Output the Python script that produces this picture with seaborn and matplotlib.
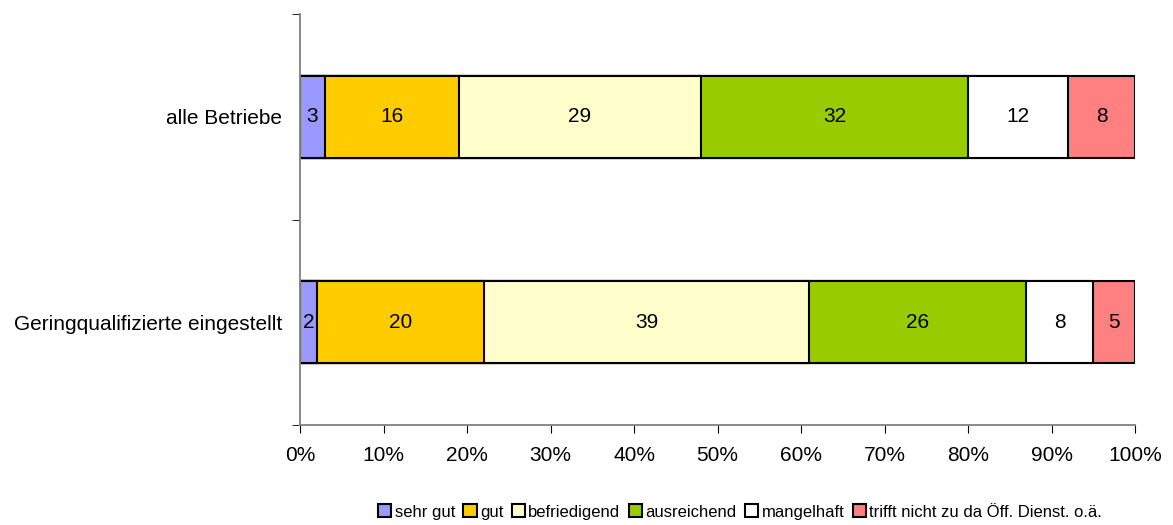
import numpy as np
import pandas as pd
import matplotlib
matplotlib.use('Agg')
import matplotlib.pyplot as plt
from matplotlib.patches import Patch
import seaborn as sns

# data
groups = ['alle Betriebe', 'Geringqualifizierte eingestellt']
grades = ['sehr gut', 'gut', 'befriedigend', 'ausreichend', 'mangelhaft',
          'trifft nicht zu da Öff. Dienst. o.ä.']
alle = [3, 16, 29, 32, 12, 8]
gering = [2, 20, 39, 26, 8, 5]
colors = ['#9999FF', '#FFCC00', '#FFFFCC', '#99CC00', '#FFFFFF', '#FF8080']

sns.set_style('white')
plt.rcParams['font.family'] = ['Liberation Sans', 'DejaVu Sans']
plt.rcParams['text.color'] = 'black'
plt.rcParams['xtick.color'] = 'black'
plt.rcParams['ytick.color'] = 'black'

df = pd.DataFrame([alle, gering], index=groups, columns=grades)
cum = df.cumsum(axis=1)

fig = plt.figure(figsize=(11.73, 5.25), dpi=100)
ax = fig.add_axes([300 / 1173, 100 / 525, 835 / 1173, 411 / 525])

# draw cumulative bars from the longest to the shortest
for i in range(len(grades) - 1, -1, -1):
    d = pd.DataFrame({'group': groups, 'val': cum.iloc[:, i].values})
    sns.barplot(data=d, x='val', y='group', orient='h', color=colors[i],
                saturation=1, width=0.4, edgecolor='black', linewidth=1.5, ax=ax)

# segment labels
fs = 15
for r, g in enumerate(groups):
    left = 0
    for v in df.loc[g]:
        ax.text(left + v / 2, r, str(v), ha='center', va='center', fontsize=fs)
        left += v

ax.set_xlim(0, 100)
ax.set_ylim(1.5, -0.5)
ax.set_xticks(np.arange(0, 101, 10))
ax.set_xticklabels([f'{t}%' for t in range(0, 101, 10)], fontsize=fs)
ax.set_yticks([0, 1])
ax.set_yticklabels(groups, fontsize=fs)
ax.set_yticks([-0.5, 0.5, 1.5], minor=True)
ax.tick_params(axis='y', which='major', length=0, pad=13)
ax.tick_params(axis='y', which='minor', length=6, direction='out', left=True)
ax.tick_params(axis='x', length=6, direction='out', bottom=True, pad=9)
ax.set_xlabel('')
ax.set_ylabel('')
for s in ['top', 'right']:
    ax.spines[s].set_visible(False)
for s in ['left', 'bottom']:
    ax.spines[s].set_color('#808080')
    ax.spines[s].set_linewidth(1.3)

handles = [Patch(facecolor=c, edgecolor='black', linewidth=1.5) for c in colors]
fig.legend(handles, grades, loc='center', bbox_to_anchor=(740 / 1173, 1 - 512 / 525),
           ncol=6, frameon=False, fontsize=12, handlelength=0.8, handleheight=0.8,
           handletextpad=0.2, columnspacing=0.5, borderaxespad=0)

fig.savefig('out.png', dpi=100)
